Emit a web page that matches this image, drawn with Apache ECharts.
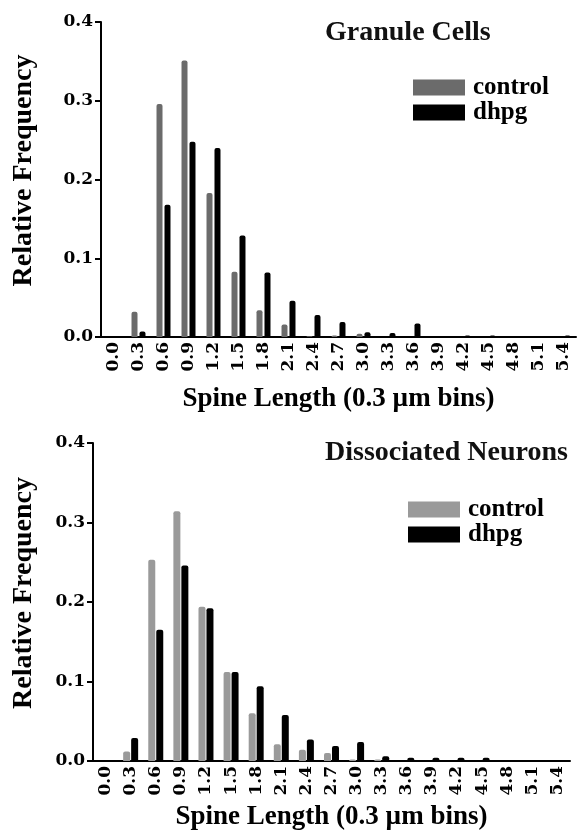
<!DOCTYPE html>
<html lang="en">
<head>
  <meta charset="UTF-8">
  <title>Spine length histograms</title>
  <style>
    html, body { width: 100%; height: 100%; padding: 0; margin: 0; background: #fff; }
    #eChart { width: 577px; height: 834px; }
  </style>
</head>
<body>
  <div id="eChart"></div>
  <script src="https://cdn.jsdelivr.net/npm/echarts@6/dist/echarts.min.js"></script>
  <script>
    // bins (0.3 um), relative frequency per bin
    var bins = ['0.0', '0.3', '0.6', '0.9', '1.2', '1.5', '1.8', '2.1', '2.4', '2.7',
      '3.0', '3.3', '3.6', '3.9', '4.2', '4.5', '4.8', '5.1', '5.4'];

    // granule cells
    var granuleControl = [0, 0.032, 0.296, 0.351, 0.183, 0.083, 0.034, 0.016, 0.001, 0.002,
      0.004, 0, 0, 0, 0, 0, 0, 0, 0];
    var granuleDhpg = [0, 0.007, 0.168, 0.248, 0.240, 0.129, 0.082, 0.046, 0.028, 0.019,
      0.006, 0.005, 0.017, 0, 0.002, 0.002, 0, 0, 0.002];

    // dissociated neurons
    var dissocControl = [0, 0.012, 0.253, 0.314, 0.194, 0.112, 0.060, 0.021, 0.014, 0.010,
      0.002, 0.002, 0, 0, 0, 0, 0, 0, 0];
    var dissocDhpg = [0, 0.029, 0.165, 0.246, 0.192, 0.112, 0.094, 0.058, 0.027, 0.019,
      0.024, 0.006, 0.004, 0.004, 0.004, 0.004, 0, 0, 0.001];

    var serif = '"Liberation Serif", "Times New Roman", serif';
    var tickFont = '"DejaVu Serif", serif';
    var xName = 'Spine Length (0.3 \u00b5m bins)';

    function xAxisFor(idx, gap) {
      return {
        type: 'category', gridIndex: idx, data: bins,
        axisLine: { lineStyle: { color: '#000', width: 2 } },
        axisTick: { show: false },
        axisLabel: {
          rotate: 90, margin: 5, interval: 0, color: '#000',
          fontFamily: tickFont, fontWeight: 'bold', fontSize: 17
        },
        name: xName, nameLocation: 'middle', nameGap: gap,
        nameTextStyle: { fontFamily: serif, fontWeight: 'bold', fontSize: 27, color: '#000' }
      };
    }

    function yAxisFor(idx, gap) {
      return {
        type: 'value', gridIndex: idx, min: 0, max: 0.4, interval: 0.1,
        splitLine: { show: false },
        axisLine: { show: true, lineStyle: { color: '#000', width: 2 } },
        axisTick: { show: true, length: 6, lineStyle: { color: '#000', width: 2 } },
        axisLabel: {
          color: '#000', fontFamily: tickFont, fontWeight: 'bold', fontSize: 17, margin: 8,
          formatter: function (v) { return v.toFixed(1); }
        },
        name: 'Relative Frequency', nameLocation: 'middle', nameRotate: 90, nameGap: gap,
        nameTextStyle: {
          fontFamily: serif, fontWeight: 'bold', fontSize: 28, color: '#000',
          padding: [0, 0, 0, 18]
        }
      };
    }

    function barSeries(name, data, idx, color, w, gap) {
      return {
        type: 'bar', name: name, data: data, xAxisIndex: idx, yAxisIndex: idx,
        barWidth: w, barGap: gap,
        itemStyle: { color: color, borderRadius: [2, 2, 0, 0] },
        emphasis: { disabled: true }
      };
    }

    function legendFor(left, top, ctrlColor) {
      return {
        orient: 'vertical', left: left, top: top, icon: 'rect',
        itemWidth: 52, itemHeight: 16, itemGap: 0, padding: 0,
        selectedMode: false,
        textStyle: {
          fontFamily: serif, fontWeight: 'bold', fontSize: 25, color: '#000',
          lineHeight: 23, padding: [0, 0, 0, 3]
        },
        data: [
          { name: 'control', itemStyle: { color: ctrlColor } },
          { name: 'dhpg', itemStyle: { color: '#000' } }
        ]
      };
    }

    var myChart = echarts.init(document.getElementById('eChart'));

    myChart.setOption({
      animation: false,
      title: [
        { text: 'Granule Cells', left: 325, top: 19, padding: 0,
          textStyle: { fontFamily: serif, fontWeight: 'bold', fontSize: 28, color: '#111' } },
        { text: 'Dissociated Neurons', left: 325, top: 439, padding: 0,
          textStyle: { fontFamily: serif, fontWeight: 'bold', fontSize: 28, color: '#111' } }
      ],
      legend: [legendFor(413, 75, '#6b6b6b'), legendFor(408, 497, '#9a9a9a')],
      grid: [
        { left: 101, width: 475, top: 22, height: 315 },
        { left: 93, width: 477, top: 443, height: 318 }
      ],
      xAxis: [xAxisFor(0, 49), xAxisFor(1, 43)],
      yAxis: [yAxisFor(0, 63), yAxisFor(1, 55)],
      series: [
        barSeries('control', granuleControl, 0, '#6b6b6b', 6, '33%'),
        barSeries('dhpg', granuleDhpg, 0, '#000', 6, '33%'),
        barSeries('control', dissocControl, 1, '#9a9a9a', 7, '14%'),
        barSeries('dhpg', dissocDhpg, 1, '#000', 7, '14%')
      ]
    });
  </script>
</body>
</html>
